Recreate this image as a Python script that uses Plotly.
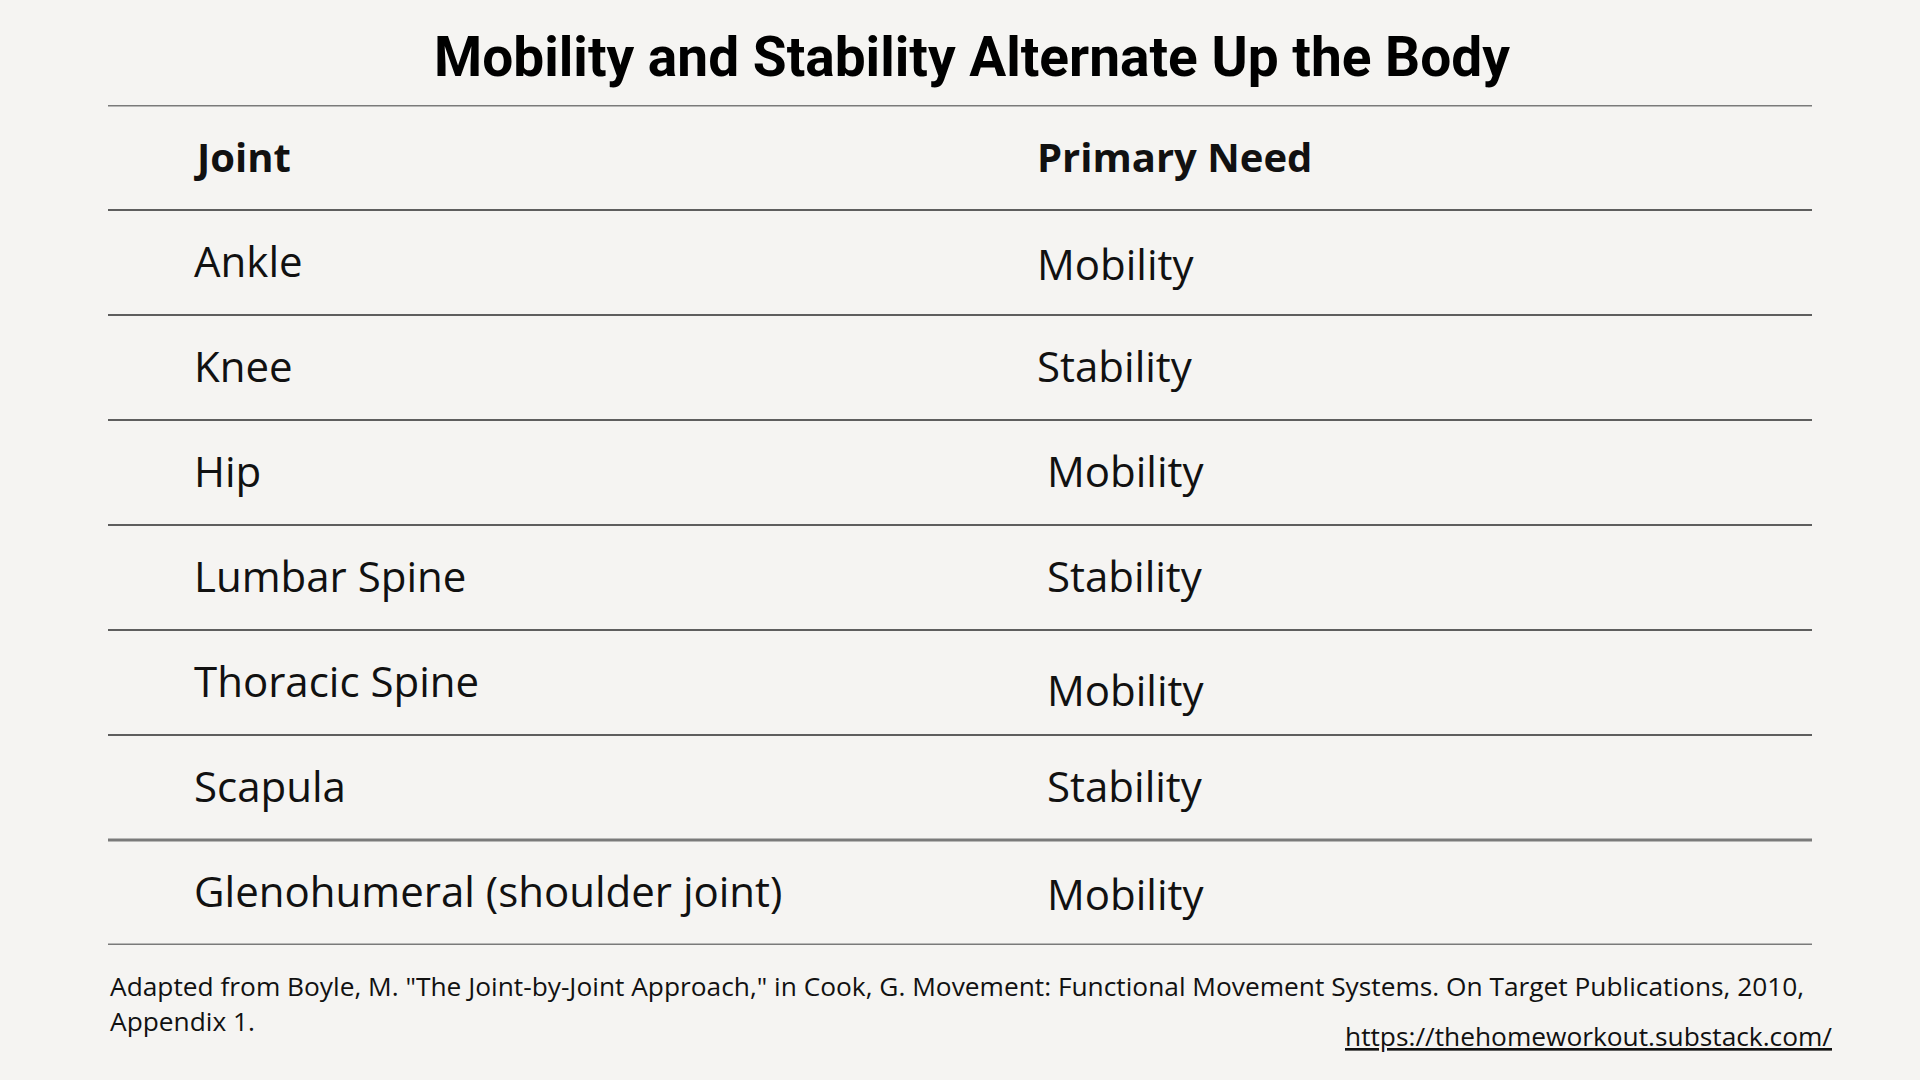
import plotly.graph_objects as go

TITLE = "Mobility and Stability Alternate Up the Body"
HEADERS = ["Joint", "Primary Need"]
JOINTS = ["Ankle", "Knee", "Hip", "Lumbar Spine", "Thoracic Spine", "Scapula",
          "Glenohumeral (shoulder joint)"]
NEEDS = ["Mobility", "Stability", "Mobility", "Stability", "Mobility", "Stability",
         "Mobility"]
SOURCE_LINES = [
    'Adapted from Boyle, M. "The Joint-by-Joint Approach," in Cook, G. Movement: '
    'Functional Movement Systems. On Target Publications, 2010,',
    "Appendix 1.",
]
URL = "https://thehomeworkout.substack.com/"

# small hand-placement quirks of the original layout (pixels)
NEED_XSHIFT = [0, 0, 10, 10, 10, 10, 10]
NEED_YSHIFT = [-1, 2, 2, 2, -7, 2, -1]

BG = "#f5f4f2"
TEXT = "#111111"
BODY_FONT = "Open Sans, Noto Sans, sans-serif"
TITLE_FONT = "Roboto, Liberation Sans, sans-serif"

COL_X = [0.049, 0.544]
n_rows = len(JOINTS) + 1

fig = go.Figure()

annotations = []
# header row
for cx, h in zip(COL_X, HEADERS):
    annotations.append(dict(
        x=cx, y=0.5, xref="x", yref="y", text="<b>%s</b>" % h, showarrow=False,
        xanchor="left", yanchor="middle", yshift=1,
        font=dict(family=BODY_FONT, size=40, color=TEXT)))

# body rows
for i, (joint, need) in enumerate(zip(JOINTS, NEEDS)):
    yc = i + 1.5
    annotations.append(dict(
        x=COL_X[0], y=yc, xref="x", yref="y", text=joint, showarrow=False,
        xanchor="left", yanchor="middle", yshift=2,
        font=dict(family=BODY_FONT, size=42, color=TEXT)))
    annotations.append(dict(
        x=COL_X[1], y=yc, xref="x", yref="y", text=need, showarrow=False,
        xanchor="left", yanchor="middle", xshift=NEED_XSHIFT[i], yshift=NEED_YSHIFT[i],
        font=dict(family=BODY_FONT, size=42, color=TEXT)))

# source note and url
annotations.append(dict(
    x=108 / 1920, y=1 - 986 / 1080, xref="paper", yref="paper", text=SOURCE_LINES[0],
    showarrow=False, xanchor="left", yanchor="middle",
    font=dict(family=BODY_FONT, size=26.3, color=TEXT)))
annotations.append(dict(
    x=108 / 1920, y=1 - 1021 / 1080, xref="paper", yref="paper", text=SOURCE_LINES[1],
    showarrow=False, xanchor="left", yanchor="middle",
    font=dict(family=BODY_FONT, size=26.3, color=TEXT)))
annotations.append(dict(
    x=1834 / 1920, y=1 - 1036 / 1080, xref="paper", yref="paper", text="<u>%s</u>" % URL,
    showarrow=False, xanchor="right", yanchor="middle",
    font=dict(family=BODY_FONT, size=26.3, color=TEXT)))

# row separator lines
shapes = []
for k in range(n_rows + 1):
    heavy = k in (0, n_rows - 1, n_rows)
    shapes.append(dict(
        type="line", xref="x", yref="y", x0=0, x1=1, y0=k, y1=k,
        line=dict(color="#7a7a7a" if heavy else "#5e5e5e", width=3 if heavy else 2)))

fig.update_layout(
    width=1920, height=1080,
    paper_bgcolor=BG, plot_bgcolor=BG,
    margin=dict(l=0, r=0, t=0, b=0),
    showlegend=False,
    title=dict(text="<b>%s</b>" % TITLE, x=972 / 1920, y=1 - 57 / 1080,
               xanchor="center", yanchor="middle",
               font=dict(family=TITLE_FONT, size=55, color="#000000")),
    xaxis=dict(range=[0, 1], domain=[108 / 1920, 1812 / 1920], visible=False,
               fixedrange=True),
    yaxis=dict(range=[n_rows, 0], domain=[1 - 945 / 1080, 1 - 105 / 1080],
               visible=False, fixedrange=True),
    annotations=annotations,
    shapes=shapes,
)

fig.write_html("out.html", config={"displayModeBar": False},
               post_script="document.body.style.margin='0';"
                           "document.body.style.overflow='hidden';")
